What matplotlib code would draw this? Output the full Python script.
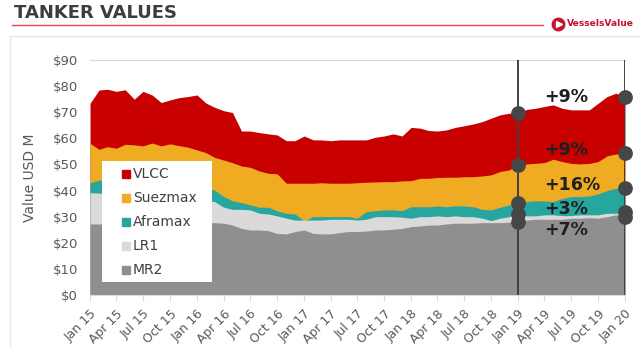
import matplotlib.pyplot as plt
import matplotlib.dates as mdates
from matplotlib.lines import Line2D
from matplotlib.patches import Rectangle
from matplotlib.ticker import MultipleLocator, FuncFormatter
import pandas as pd

# monthly values, Jan 2015 - Jan 2020 (USD M)
months = pd.date_range('2015-01-01', '2020-01-01', freq='MS')

vlcc = [73.4, 78.5, 78.8, 78.0, 78.6, 75.0, 78.0, 76.6, 73.7, 74.7, 75.6, 76.0,
        76.6, 73.5, 71.9, 70.6, 69.9, 62.8, 62.8, 62.2, 61.7, 61.3, 59.1, 59.1,
        60.9, 59.4, 59.4, 59.1, 59.4, 59.4, 59.4, 59.4, 60.4, 60.9, 61.7, 60.9,
        64.2, 63.9, 63.0, 62.8, 63.2, 64.2, 64.8, 65.5, 66.4, 67.7, 69.0, 69.6,
        69.8, 71.1, 71.5, 72.2, 72.8, 71.5, 70.9, 70.9, 70.9, 73.4, 76.0, 77.3,
        76.0]
suezmax = [58.1, 55.8, 56.8, 56.2, 57.7, 57.5, 57.1, 58.2, 57.1, 57.9, 57.2, 56.6,
           55.6, 54.5, 52.7, 51.7, 50.7, 49.4, 48.9, 47.5, 46.6, 46.4, 42.8, 42.8,
           42.8, 42.8, 43.0, 42.8, 42.8, 42.8, 43.0, 43.2, 43.3, 43.4, 43.4, 43.7,
           43.8, 44.7, 44.7, 45.0, 45.1, 45.1, 45.3, 45.3, 45.6, 46.0, 47.3, 47.9,
           49.8, 50.2, 50.4, 50.7, 52.0, 51.1, 50.4, 50.2, 50.4, 51.1, 53.3, 54.0,
           54.3]
aframax = [43.0, 44.0, 43.8, 43.7, 44.2, 44.5, 44.3, 44.0, 43.6, 43.2, 42.8, 42.3,
           41.6, 40.8, 40.2, 37.7, 36.1, 35.4, 34.5, 33.6, 33.6, 32.2, 31.3, 31.0,
           28.5, 30.0, 30.0, 30.0, 30.0, 30.0, 29.4, 31.9, 32.3, 32.6, 32.6, 32.3,
           33.8, 33.8, 33.8, 34.1, 33.8, 34.2, 34.1, 33.8, 32.8, 32.6, 33.6, 34.5,
           35.3, 35.8, 36.1, 36.0, 35.8, 37.0, 37.7, 37.7, 37.9, 38.7, 40.0, 40.9,
           41.0]
lr1 = [39.2, 39.0, 38.9, 38.4, 38.6, 38.1, 37.9, 38.2, 37.6, 37.1, 37.3, 36.8,
       36.2, 36.0, 35.8, 33.6, 32.8, 32.8, 32.6, 31.3, 31.0, 30.3, 29.4, 28.7,
       28.7, 28.7, 28.7, 29.0, 29.0, 29.0, 28.7, 29.0, 30.0, 30.0, 30.0, 29.8,
       29.4, 30.0, 30.0, 30.3, 30.0, 30.3, 30.0, 30.0, 29.4, 28.5, 29.4, 30.0,
       31.0, 30.3, 30.3, 30.7, 30.7, 30.4, 30.4, 30.7, 30.7, 30.7, 31.3, 31.3,
       31.9]
mr2 = [27.2, 27.2, 27.4, 27.6, 27.5, 27.8, 27.9, 27.7, 27.8, 27.6, 27.7, 27.9,
       27.8, 27.6, 27.7, 27.5, 26.8, 25.5, 24.9, 24.9, 24.6, 23.6, 23.4, 24.3,
       24.9, 23.6, 23.4, 23.4, 23.9, 24.3, 24.3, 24.5, 24.9, 24.9, 25.2, 25.5,
       26.2, 26.4, 26.8, 26.8, 27.2, 27.5, 27.5, 27.5, 27.7, 27.7, 27.7, 27.9,
       28.0, 28.7, 29.0, 29.0, 29.0, 29.0, 29.4, 29.4, 29.6, 29.4, 30.0, 30.7,
       30.0]

names = ['VLCC', 'Suezmax', 'Aframax', 'LR1', 'MR2']
colors = ['#c80000', '#efab22', '#27a6a0', '#dadada', '#8f8f8f']
values = [vlcc, suezmax, aframax, lr1, mr2]

grey = '#595959'

fig = plt.figure(figsize=(6.4, 3.47), dpi=100)

# header
fig.text(14/640, 1 - 13/347, 'TANKER VALUES', fontsize=13, fontweight='bold',
         color='#3d3d3d', va='center')
fig.add_artist(Line2D([12/640, 543/640], [1 - 24.5/347] * 2, color='#e84646', lw=1))
fig.add_artist(Line2D([558/640], [1 - 24/347], marker='o', ms=9, color='#c8102e'))
fig.add_artist(Line2D([558.8/640], [1 - 24/347], marker='>', ms=4.5, color='white'))
fig.text(567/640, 1 - 24/347, 'VesselsValue', fontsize=6.6, fontweight='bold',
         color='#c8102e', va='center')
fig.add_artist(Rectangle((10/640, -0.1), 1.0, 1.1 - 36/347, transform=fig.transFigure,
                         fill=False, edgecolor='#e6e6e6', lw=1))

ax = fig.add_axes([90/640, 52/347, 535/640, 235/347])

# overlapping areas, largest ship class at the back
for name, vals, col in zip(names, values, colors):
    ax.fill_between(months, 0, vals, color=col, lw=0, zorder=2)

ax.set_xlim(months[0], months[-1])
ax.set_ylim(0, 90)
ax.yaxis.set_major_locator(MultipleLocator(10))
ax.yaxis.set_major_formatter(FuncFormatter(lambda v, p: f'${v:.0f}'))
ax.tick_params(axis='y', length=0, labelsize=9.5, labelcolor=grey, pad=8.5)
ax.set_ylabel('Value USD M', fontsize=10, color=grey)
ax.yaxis.set_label_coords((37 - 90) / 535, 0.5)

ax.xaxis.set_major_locator(mdates.MonthLocator(bymonth=[1, 4, 7, 10]))
ax.xaxis.set_major_formatter(mdates.DateFormatter('%b %y'))
ax.tick_params(axis='x', length=4, color='#d9d9d9', labelsize=9,
               labelcolor=grey, pad=5)
plt.setp(ax.get_xticklabels(), rotation=45, ha='right', rotation_mode='anchor')

for s in ['left', 'right']:
    ax.spines[s].set_visible(False)
for s in ['top', 'bottom']:
    ax.spines[s].set_color('#d9d9d9')
    ax.spines[s].set_linewidth(0.8)

# year-on-year markers
i_start, i_end = 48, 60
for idx in (i_start, i_end):
    ax.axvline(months[idx], color='#404040', lw=1.4, zorder=6)
    ax.plot([months[idx]] * len(values), [v[idx] for v in values], 'o',
            ms=9.6, color='#464646', zorder=7, clip_on=False)

label_y = [75.8, 55.5, 42.1, 32.9, 24.9]
for vals, ly in zip(values, label_y):
    pct = round((vals[i_end] / vals[i_start] - 1) * 100)
    ax.text(months[51], ly, f'+{pct}%', fontsize=12.5, fontweight='bold',
            color='#1f1f1f', va='center', ha='left', zorder=8)

# legend box
ax.add_patch(Rectangle((12/535, 13/235), 110/535, 121/235, transform=ax.transAxes,
                       facecolor='white', edgecolor='none', zorder=9))
for k, (name, col) in enumerate(zip(names, colors)):
    yy = (295 - (174 + 24 * k)) / 235
    ax.plot([36/535], [yy], 's', ms=5.5, color=col, transform=ax.transAxes, zorder=10)
    ax.text(43/535, yy, name, fontsize=10, color='#404040', va='center',
            transform=ax.transAxes, zorder=10)

fig.savefig('out.png', dpi=100)
